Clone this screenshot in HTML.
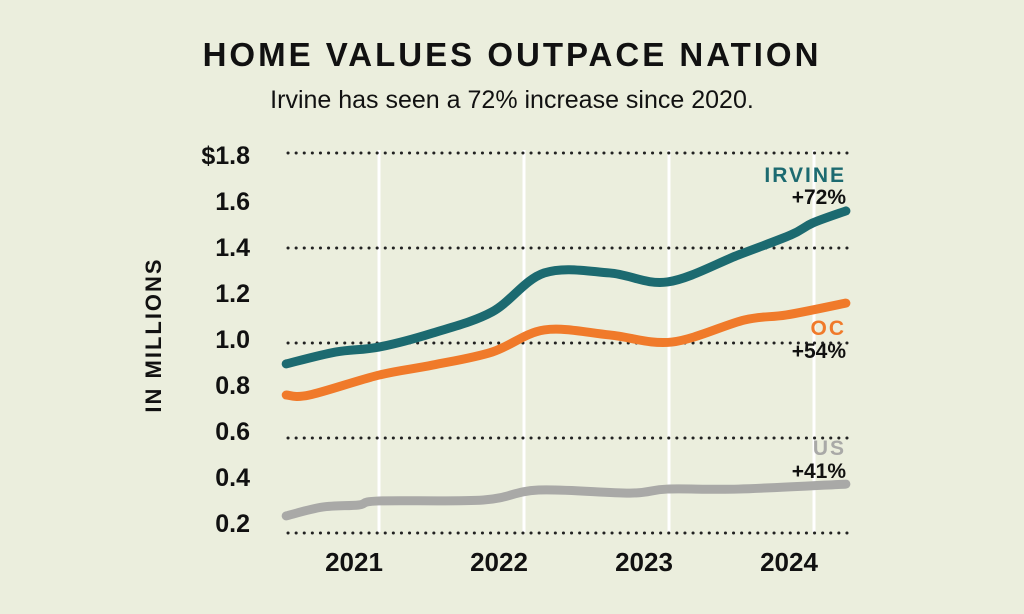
<!DOCTYPE html>
<html><head><meta charset="utf-8"><style>
html,body{margin:0;padding:0;background:#ebeedd;}
svg{display:block;font-family:"Liberation Sans",sans-serif;}
</style></head><body>
<svg id="chart" width="1024" height="614" viewBox="0 0 1024 614">
<rect width="1024" height="614" fill="#ebeedd"/>
<text x="512" y="66" text-anchor="middle" font-size="33" font-weight="bold" letter-spacing="3" fill="#111">HOME VALUES OUTPACE NATION</text>
<text x="512" y="108" text-anchor="middle" font-size="25" fill="#111">Irvine has seen a 72% increase since 2020.</text>
<text transform="translate(161,335) rotate(-90)" text-anchor="middle" font-size="22" font-weight="bold" letter-spacing="2" fill="#111">IN MILLIONS</text>
<g id="grid"></g><g id="ticks"></g><g id="series"></g><g id="labels"></g>
</svg>
<script>
const yearTicks=[2021,2022,2023,2024];
const yTickValues=[1.8,1.6,1.4,1.2,1.0,0.8,0.6,0.4,0.2];
const yTickLabels=["$1.8","1.6","1.4","1.2","1.0","0.8","0.6","0.4","0.2"];
const gridValues=[1.8,1.4,1.0,0.6,0.2];
const irvineDates=[2020.36,2020.70,2021.0,2021.37,2021.78,2022.14,2022.59,2022.99,2023.48,2023.84,2023.99,2024.22];
const irvineValues=[0.912,0.962,0.983,1.042,1.131,1.295,1.295,1.257,1.371,1.455,1.505,1.556];
const ocDates=[2020.36,2020.52,2021.0,2021.37,2021.78,2022.14,2022.59,2023.02,2023.52,2023.81,2024.22];
const ocValues=[0.781,0.781,0.865,0.907,0.962,1.055,1.034,1.004,1.097,1.118,1.168];
const usDates=[2020.36,2020.61,2020.86,2021.0,2021.72,2022.10,2022.73,2022.99,2023.48,2024.22];
const usValues=[0.272,0.309,0.318,0.335,0.339,0.381,0.368,0.385,0.385,0.406];
const NS="http://www.w3.org/2000/svg";
const xS=t=>379+(t-2021)*145;
const yS=v=>153+(1.8-v)*237.5;
const yLab=v=>155+(1.8-v)*230;
function mk(tag,attrs,parent){const e=document.createElementNS(NS,tag);for(const k in attrs)e.setAttribute(k,attrs[k]);parent.appendChild(e);return e;}
const grid=document.getElementById('grid'),ticks=document.getElementById('ticks'),series=document.getElementById('series'),labels=document.getElementById('labels');
yearTicks.forEach(y=>{
  const l=mk('line',{x1:xS(y),x2:xS(y),y1:150,y2:532,stroke:'#ffffff','stroke-width':3},grid);
  
  
  const t=mk('text',{x:xS(y)-25,y:571,'text-anchor':'middle','font-size':26,'font-weight':'bold',fill:'#111'},ticks);
  t.textContent=y;
  
  
});
gridValues.forEach(v=>{
  const l=mk('line',{x1:288,x2:848,y1:yS(v),y2:yS(v),stroke:'#222','stroke-width':3,'stroke-dasharray':'0.1 8','stroke-linecap':'round'},grid);
  
  
});
yTickValues.forEach((v,i)=>{
  const t=mk('text',{x:250,y:yLab(v)+9,'text-anchor':'end','font-size':25,'font-weight':'bold',fill:'#111'},ticks);
  t.textContent=yTickLabels[i];
  
  
});
function pathD(ds,vs){
  const p=ds.map((d,i)=>[xS(d),yS(vs[i])]);
  let s='M'+p[0][0]+','+p[0][1];
  for(let i=0;i<p.length-1;i++){
    const p0=p[Math.max(0,i-1)],p1=p[i],p2=p[i+1],p3=p[Math.min(p.length-1,i+2)];
    const c1=[p1[0]+(p2[0]-p0[0])/6,p1[1]+(p2[1]-p0[1])/6];
    const c2=[p2[0]-(p3[0]-p1[0])/6,p2[1]-(p3[1]-p1[1])/6];
    s+=' C'+c1+' '+c2+' '+p2;
  }
  return s;
}
const us=mk('path',{d:pathD(usDates,usValues),fill:'none',stroke:'#a9a9a7','stroke-width':9,'stroke-linecap':'round','stroke-linejoin':'round'},series);


const oc=mk('path',{d:pathD(ocDates,ocValues),fill:'none',stroke:'#f07a2a','stroke-width':9,'stroke-linecap':'round','stroke-linejoin':'round'},series);


const irv=mk('path',{d:pathD(irvineDates,irvineValues),fill:'none',stroke:'#1c6a70','stroke-width':9,'stroke-linecap':'round','stroke-linejoin':'round'},series);


const labs=[["IRVINE","#1c6a70",182,"irvine-label",2],["+72%","#111",204,"irvine-change",0],["OC","#f07a2a",335,"oc-label",2],["+54%","#111",358,"oc-change",0],["US","#a9a9a7",455,"us-label",2],["+41%","#111",478,"us-change",0]];
labs.forEach(a=>{
  const t=mk('text',{x:846,y:a[2],'text-anchor':'end','font-size':21,'font-weight':'bold',fill:a[1],'letter-spacing':a[4]},labels);
  t.textContent=a[0];
  
  
});
</script>
</body></html>
